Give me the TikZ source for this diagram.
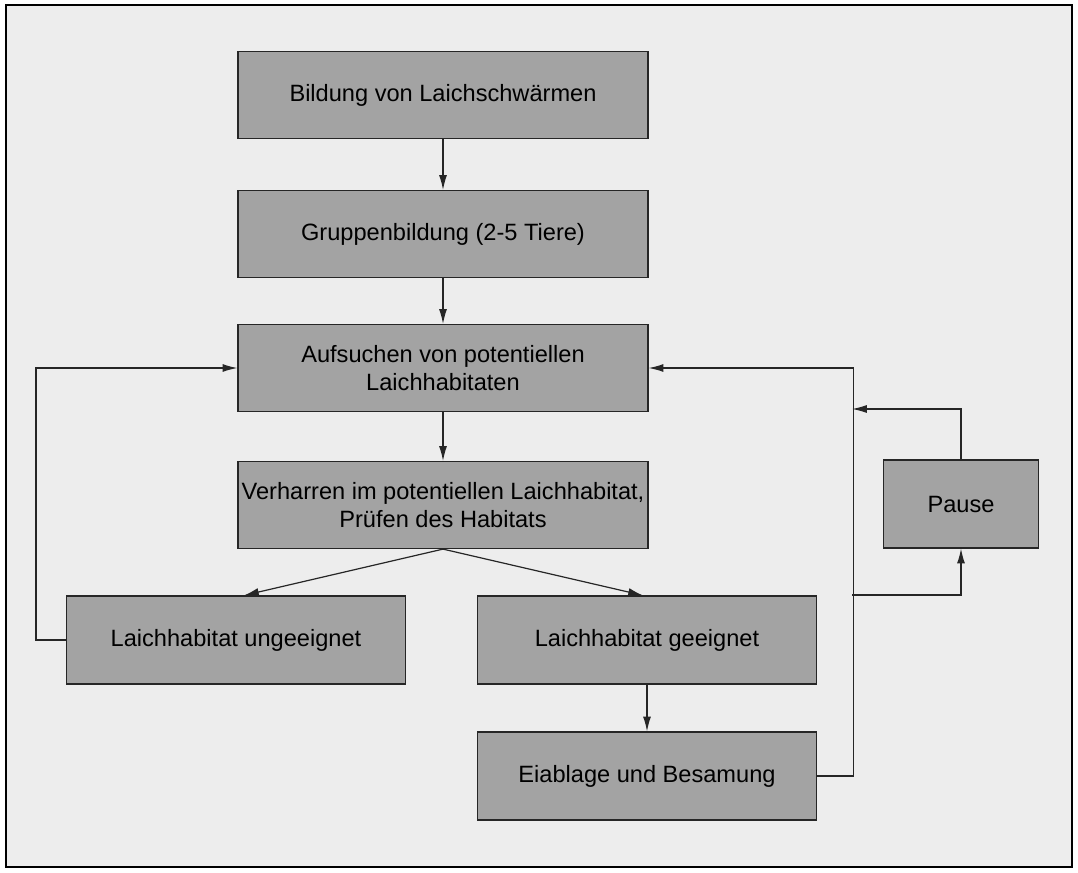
\documentclass[tikz,border=0pt]{standalone}
\usepackage{fontspec}
\setmainfont{Liberation Sans}
\usepackage{tikz}
\usetikzlibrary{arrows.meta, positioning}
\definecolor{papier}{gray}{0.93}
\definecolor{kasten}{gray}{0.64}
\tikzset{
  schritt/.style={rectangle, draw=black!85, line width=0.6pt, fill=kasten, align=center, text centered, font=\fontsize{11.8}{14}\selectfont, inner sep=1pt},
  breit/.style={schritt, minimum width=205pt, minimum height=43.5pt},
  mittel/.style={schritt, minimum width=169.5pt, minimum height=44pt},
  klein/.style={schritt, minimum width=77.5pt, minimum height=44pt},
  pfeil/.style={line width=0.6pt, draw=black!85, -{Latex[length=2.6mm, width=1.4mm]}}
}
\begin{document}
\begin{tikzpicture}[x=0.5pt, y=-0.5pt]

    % Hintergrund und Rahmen
    \fill[white] (0,0) rectangle (1078,873);
    \draw[fill=papier, line width=0.7pt] (6,5) rectangle (1072,867);

    % Hauptkette
    \node[breit] (bildung)   at (443,95)  {Bildung von Laichschwärmen};
    \node[breit] (gruppe)    at (443,234) {Gruppenbildung (2-5 Tiere)};
    \node[breit] (aufsuchen) at (443,368) {Aufsuchen von potentiellen\\Laichhabitaten};
    \node[breit] (verharren) at (443,505) {Verharren im potentiellen Laichhabitat,\\Prüfen des Habitats};

    % Verzweigung
    \node[mittel] (ungeeignet) at (236,640) {Laichhabitat ungeeignet};
    \node[mittel] (geeignet)   at (647,640) {Laichhabitat geeignet};
    \node[mittel] (eiablage)   at (647,776) {Eiablage und Besamung};
    \node[klein]  (pause)      at (961,504) {Pause};

    % Knickpunkte rechts
    \coordinate (rechtsunten) at (852,595);
    \coordinate (rechtsoben)  at (852,409);

    % Verbindungen
    \draw[pfeil] (bildung) -- (gruppe);
    \draw[pfeil] (gruppe) -- (aufsuchen);
    \draw[pfeil] (aufsuchen) -- (verharren);
    \draw[pfeil] (verharren.south) -- ([xshift=4]ungeeignet.north);
    \draw[pfeil] (verharren.south) -- ([xshift=-2]geeignet.north);
    \draw[pfeil] (geeignet) -- (eiablage);
    \draw[pfeil] (ungeeignet.west) -- ++(-30,0) |- (aufsuchen.west);
    \draw[pfeil] (eiablage.east) -- ++(36,0) |- (aufsuchen.east);
    \draw[pfeil] (rechtsunten) -| (pause.south);
    \draw[pfeil] (pause.north) |- (rechtsoben);

\end{tikzpicture}
\end{document}
